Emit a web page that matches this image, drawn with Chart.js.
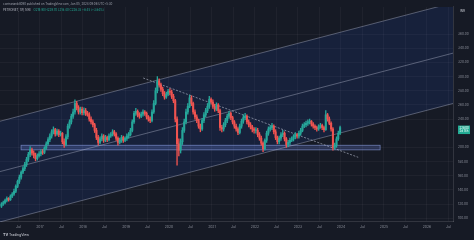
<!DOCTYPE html>
<html>
<head>
<meta charset="utf-8">
<script src="https://cdn.jsdelivr.net/npm/chart.js@4.4.0/dist/chart.umd.min.js"></script>
<style>
  html, body { margin: 0; padding: 0; background: #161a25; }
  #wrap { width: 474px; height: 240px; }
</style>
</head>
<body>
<div id="wrap"><canvas id="chart" width="474" height="240"></canvas></div>
<script>
// half-month candles, first one starts Feb 2016
const firstBarYear = 2016 + 1 / 12;
const barsPerYear = 24;

const opens = [
  117,120,122,125,128,126,131,134,138,145,152,158,165,170,176,183,190,197,192,189,184,188,
  191,194,193,199,205,211,216,222,225,219,223,218,220,208,204,215,230,236,244,250,262,256,250,254,
  249,252,248,246,240,236,232,224,214,207,212,216,210,214,211,216,218,222,219,213,207,210,214,210,
  213,216,218,224,236,248,251,246,244,247,250,248,243,240,238,250,262,280,294,288,282,276,271,275,
  279,278,272,266,240,205,196,208,224,236,250,258,270,262,250,243,238,230,226,238,246,252,258,268,
  264,258,254,260,252,228,226,232,238,244,248,242,236,230,226,221,230,237,242,244,236,232,229,226,
  224,224,218,213,206,198,210,220,226,228,230,222,214,208,213,218,220,212,204,207,210,212,215,218,
  216,220,224,230,232,234,236,237,233,230,228,226,229,231,228,225,246,240,234,226,200,203,212,220
];
const highs = [
  122,124,127,130,129,133,136,141,147,154,161,167,173,179,186,193,201,199,195,192,191,194,
  197,197,201,208,214,219,225,229,227,226,225,223,221,212,218,233,239,247,254,267,265,259,257,257,
  256,255,251,249,243,239,234,227,217,215,219,218,217,216,219,221,225,224,221,215,213,217,216,215,
  219,221,227,239,251,255,253,249,250,253,252,250,245,243,253,266,284,300,297,291,285,279,278,282,
  283,281,275,268,243,212,212,228,240,254,262,274,273,264,253,246,240,233,241,249,255,262,272,270,
  267,261,263,262,254,231,235,241,247,251,250,244,238,233,228,233,240,246,248,246,239,235,231,228,
  228,227,221,216,208,212,223,229,231,234,232,225,216,216,221,224,222,214,210,213,215,218,221,220,
  223,227,233,235,237,239,240,238,235,232,230,232,234,233,230,252,248,243,236,228,206,215,223,230
];
const lows = [
  115,118,120,123,124,125,129,132,136,143,149,155,163,167,173,180,187,189,185,181,182,186,
  188,190,191,197,203,208,213,219,216,217,215,216,205,200,202,212,227,233,241,247,253,247,247,246,
  246,245,244,237,233,229,221,211,203,205,209,207,208,208,209,214,216,216,210,203,205,207,207,208,
  210,213,216,222,234,245,243,241,242,244,245,240,237,235,236,248,260,277,285,279,273,268,269,273,
  274,269,263,236,175,188,192,204,221,233,247,256,259,247,240,235,227,222,224,235,243,249,255,261,
  255,251,252,249,224,222,223,229,235,241,239,233,227,223,218,219,227,234,239,233,229,226,222,220,
  220,215,210,203,194,196,207,217,223,225,219,211,205,205,210,215,209,200,201,204,208,209,212,213,
  213,217,222,228,229,231,233,230,227,225,223,224,227,225,222,224,237,232,223,196,197,200,210,218
];
const closes = [
  120,122,125,128,126,131,134,138,145,152,158,165,170,176,183,190,197,192,189,184,188,191,
  194,193,199,205,211,216,222,225,219,223,218,220,208,204,215,230,236,244,250,262,256,250,254,249,
  252,248,246,240,236,232,224,214,207,212,216,210,214,211,216,218,222,219,213,207,210,214,210,213,
  216,218,224,236,248,251,246,244,247,250,248,243,240,238,250,262,280,294,288,282,276,271,275,279,
  278,272,266,240,205,196,208,224,236,250,258,270,262,250,243,238,230,226,238,246,252,258,268,264,
  258,254,260,252,228,226,232,238,244,248,242,236,230,226,221,230,237,242,244,236,232,229,226,224,
  224,218,213,206,198,210,220,226,228,230,222,214,208,213,218,220,212,204,207,210,212,215,218,216,
  220,224,230,232,234,236,237,233,230,228,226,229,231,228,225,246,240,234,226,200,203,212,220,228
];

// drawings (year, price)
const channelYears = [2016, 2027];
const channelTop = [235.8, 410.5];
const channelMid = [164.7, 339.4];
const channelBottom = [93.6, 268.3];
const trendYears = [2019.40, 2024.40];
const trendPrices = [298, 186];
const zoneYears = [2016.56, 2024.91];
const zonePrices = [196.5, 203];

const xTickValues = [2016.5, 2017, 2017.5, 2018, 2018.5, 2019, 2019.5, 2020, 2020.5, 2021, 2021.5,
  2022, 2022.5, 2023, 2023.5, 2024, 2024.5, 2025, 2025.5, 2026, 2026.5];
const xTickLabels = ['Jul', '2017', 'Jul', '2018', 'Jul', '2019', 'Jul', '2020', 'Jul', '2021', 'Jul',
  '2022', 'Jul', '2023', 'Jul', '2024', 'Jul', '2025', 'Jul', '2026', 'Jul'];
const yTickValues = [100, 120, 140, 160, 180, 200, 240, 260, 280, 300, 320, 340, 360];

const UP = '#26a69a';
const DOWN = '#ef5350';
const BG = '#161a25';

const barTime = i => firstBarYear + (i + 0.5) / barsPerYear;
const candleColors = closes.map((c, i) => (c >= opens[i] ? UP : DOWN));
const bodies = closes.map((c, i) => ({ x: barTime(i), y: [opens[i], c] }));
const wicks = closes.map((c, i) => ({ x: barTime(i), y: [lows[i], highs[i]] }));
const pts = (xs, ys) => xs.map((x, i) => ({ x: x, y: ys[i] }));

const lineColor = 'rgba(185,190,210,0.5)';

const overlay = {
  id: 'overlay',
  beforeDraw(chart) {
    const ctx = chart.ctx;
    ctx.save();
    ctx.fillStyle = BG;
    ctx.fillRect(0, 0, chart.width, chart.height);
    ctx.restore();
  },
  beforeDatasetsDraw(chart) {
    const { ctx, chartArea: a, scales: { x, y } } = chart;
    const x1 = x.getPixelForValue(zoneYears[0]);
    const x2 = x.getPixelForValue(zoneYears[1]);
    const y1 = y.getPixelForValue(zonePrices[1]);
    const y2 = y.getPixelForValue(zonePrices[0]);
    ctx.save();
    ctx.beginPath();
    ctx.rect(a.left, a.top, a.right - a.left, a.bottom - a.top);
    ctx.clip();
    ctx.fillStyle = 'rgba(110,135,230,0.24)';
    ctx.fillRect(x1, y1, x2 - x1, y2 - y1);
    ctx.strokeStyle = 'rgba(150,170,240,0.65)';
    ctx.lineWidth = 0.8;
    ctx.strokeRect(x1, y1, x2 - x1, y2 - y1);
    ctx.restore();
  },
  afterDraw(chart) {
    const { ctx, chartArea: a, scales: { y } } = chart;
    ctx.save();
    ctx.textBaseline = 'middle';
    // header
    ctx.font = '2.9px Inter';
    ctx.fillStyle = '#9ea2ad';
    ctx.fillText('contrarianb4090 published on TradingView.com, Jan 05, 2024 09:06 UTC+5:30', 3, 4);
    const head = 'PETRONET, 1W, NSE   ';
    ctx.fillStyle = '#b8bcc6';
    ctx.fillText(head, 3, 10.5);
    const w = ctx.measureText(head).width;
    ctx.fillStyle = '#22ab94';
    ctx.fillText('O219.90 H229.70 L218.40 C228.35 +8.45 (+3.84%)', 3 + w, 10.5);
    // footer logo
    ctx.font = 'bold 3.6px Inter';
    ctx.fillStyle = '#d1d4dc';
    ctx.fillText('TV', 3, 235);
    ctx.font = '3.4px Inter';
    ctx.fillText('TradingView', 9, 235);
    // currency label
    ctx.font = '3px Inter';
    ctx.fillStyle = '#c9ccd4';
    ctx.fillText('INR', a.right + 7, 11);
    // last price box
    const last = closes[closes.length - 1];
    const py = y.getPixelForValue(last);
    ctx.fillStyle = '#22ab94';
    ctx.fillRect(a.right + 5, py - 2, 12, 8.5);
    ctx.fillStyle = '#ffffff';
    ctx.font = '2.8px Inter';
    ctx.fillText(last.toFixed(2), a.right + 6.5, py + 0.5);
    ctx.fillText('2d 14h', a.right + 6.5, py + 3.8);
    ctx.restore();
  }
};

new Chart(document.getElementById('chart'), {
  type: 'bar',
  data: {
    datasets: [
      { type: 'bar', data: bodies, backgroundColor: candleColors, grouped: false, order: 0,
        barPercentage: 1, categoryPercentage: 1, maxBarThickness: 1.4, minBarLength: 0.6 },
      { type: 'bar', data: wicks, backgroundColor: candleColors, grouped: false, order: 1,
        barPercentage: 1, categoryPercentage: 1, maxBarThickness: 0.7 },
      { type: 'line', data: pts(channelYears, channelTop), borderColor: lineColor, borderWidth: 0.8,
        pointRadius: 0, order: 5, fill: { target: 4 }, backgroundColor: 'rgba(41,98,255,0.10)' },
      { type: 'line', data: pts(channelYears, channelMid), borderColor: lineColor, borderWidth: 0.8,
        pointRadius: 0, order: 5, fill: false },
      { type: 'line', data: pts(channelYears, channelBottom), borderColor: lineColor, borderWidth: 0.8,
        pointRadius: 0, order: 5, fill: false },
      { type: 'line', data: pts(trendYears, trendPrices), borderColor: 'rgba(200,204,220,0.7)',
        borderWidth: 0.8, borderDash: [2, 1.5], pointRadius: 0, order: 4, fill: false }
    ]
  },
  options: {
    responsive: false,
    animation: false,
    events: [],
    layout: { padding: 0 },
    plugins: {
      legend: { display: false },
      tooltip: { enabled: false },
      filler: { drawTime: 'beforeDatasetsDraw' }
    },
    scales: {
      x: {
        type: 'linear',
        min: 2016.07,
        max: 2026.605,
        offset: false,
        grid: { color: 'rgba(255,255,255,0.04)', drawTicks: false, offset: false },
        border: { color: 'rgba(255,255,255,0.12)' },
        ticks: {
          color: '#8b8f9a',
          font: { size: 3.4, family: 'Inter' },
          maxRotation: 0,
          autoSkip: false,
          padding: 3,
          callback: (v, i) => xTickLabels[i]
        },
        afterBuildTicks: s => { s.ticks = xTickValues.map(v => ({ value: v })); },
        afterFit: s => { s.height = 18; }
      },
      y: {
        type: 'linear',
        position: 'right',
        min: 94.6,
        max: 398.4,
        grid: { color: 'rgba(255,255,255,0.04)', drawTicks: false },
        border: { color: 'rgba(255,255,255,0.12)' },
        ticks: {
          color: '#8b8f9a',
          font: { size: 3.2, family: 'Inter' },
          padding: 5,
          callback: v => v.toFixed(2)
        },
        afterBuildTicks: s => { s.ticks = yTickValues.map(v => ({ value: v })); },
        afterFit: s => { s.width = 21; }
      }
    }
  },
  plugins: [overlay]
});
</script>
</body>
</html>
